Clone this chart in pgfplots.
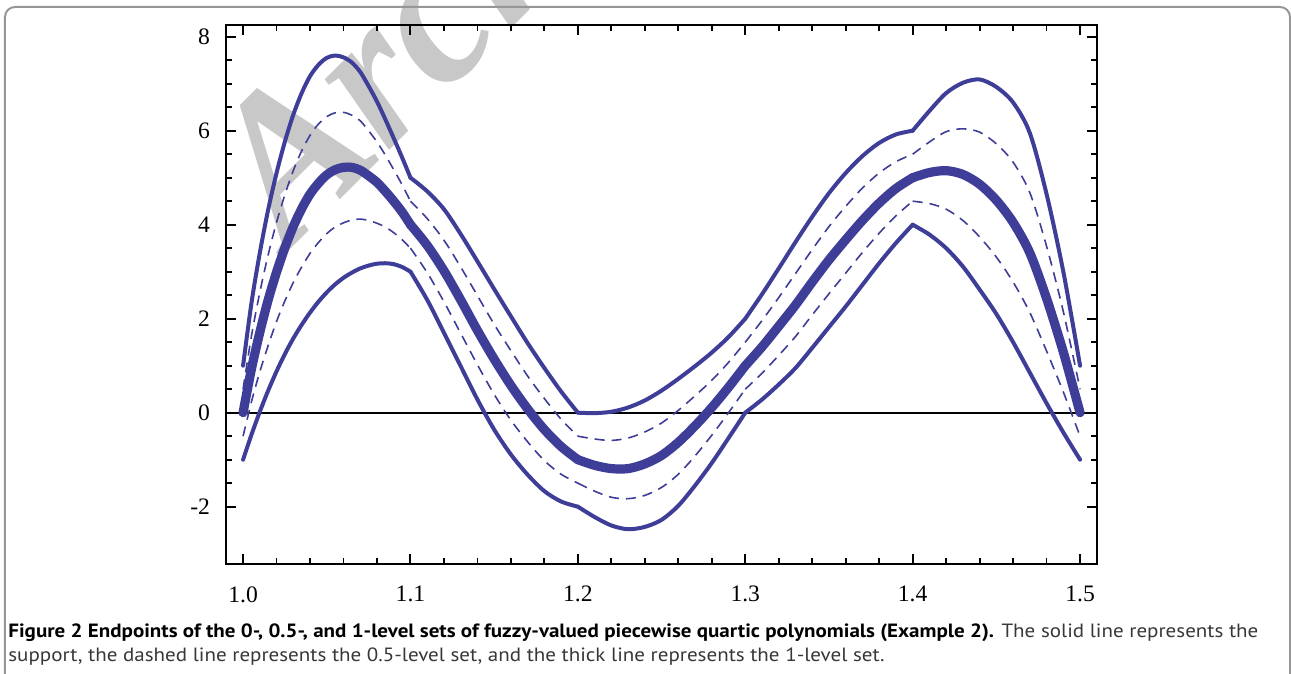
\documentclass[border=0pt]{standalone}
\usepackage{fontspec}
\setmainfont{Liberation Serif}
\newfontfamily\capfont[FakeStretch=1.095]{PT Sans}
\usepackage{pgfplots}
\usepackage{pgfplotstable}
\pgfplotsset{compat=1.18}
\definecolor{curve}{RGB}{62,61,152}
\definecolor{wmark}{RGB}{200,200,200}
\definecolor{framegray}{RGB}{150,150,150}
\definecolor{captext}{RGB}{55,55,55}

% x, support (U, L), 0.5-level (D1, D2), 1-level (M)
\pgfplotstableread{
x     U     L     M     D1    D2
1.000 1.00 -1.00  0.00  0.50 -0.50
1.005 2.33 -0.47  0.93  1.63  0.23
1.010 3.40  0.02  1.71  2.56  0.87
1.015 4.32  0.47  2.40  3.36  1.43
1.020 5.10  0.88  2.99  4.05  1.94
1.025 5.77  1.25  3.51  4.64  2.38
1.030 6.34  1.58  3.96  5.15  2.77
1.035 6.80  1.87  4.34  5.57  3.10
1.040 7.16  2.13  4.65  5.90  3.39
1.045 7.40  2.36  4.88  6.14  3.62
1.050 7.55  2.56  5.06  6.30  3.81
1.055 7.60  2.73  5.17  6.38  3.95
1.060 7.56  2.87  5.22  6.39  4.04
1.065 7.45  2.98  5.22  6.33  4.10
1.070 7.25  3.07  5.16  6.21  4.12
1.075 6.95  3.13  5.04  6.00  4.09
1.080 6.62  3.17  4.90  5.76  4.03
1.085 6.24  3.18  4.71  5.48  3.95
1.090 5.84  3.16  4.50  5.17  3.83
1.095 5.43  3.10  4.27  4.85  3.68
1.100 5.00  3.00  4.00  4.50  3.50
}\segA
\pgfplotstableread{
x     U     L     M     D1    D2
1.10  5.00  3.00  4.00  4.50  3.50
1.11  4.71  2.40  3.56  4.13  2.98
1.12  4.33  1.70  3.02  3.67  2.36
1.13  3.80  0.99  2.40  3.10  1.69
1.14  3.22  0.28  1.75  2.49  1.02
1.15  2.63 -0.36  1.14  1.88  0.39
1.16  2.05 -0.89  0.58  1.32 -0.16
1.17  1.48 -1.32  0.08  0.78 -0.62
1.18  0.95 -1.67 -0.36  0.30 -1.02
1.19  0.45 -1.89 -0.72 -0.14 -1.31
1.20  0.00 -2.00 -1.00 -0.50 -1.50
}\segB
\pgfplotstableread{
x     U     L     M     D1    D2
1.20  0.00 -2.00 -1.00 -0.50 -1.50
1.21 -0.01 -2.22 -1.12 -0.56 -1.67
1.22  0.02 -2.40 -1.19 -0.59 -1.80
1.23  0.11 -2.48 -1.19 -0.54 -1.83
1.24  0.26 -2.43 -1.09 -0.41 -1.76
1.25  0.47 -2.28 -0.91 -0.22 -1.59
1.26  0.72 -1.98 -0.63  0.05 -1.31
1.27  0.99 -1.55 -0.28  0.36 -0.92
1.28  1.28 -1.07  0.11  0.69 -0.48
1.29  1.61 -0.54  0.54  1.07  0.00
1.30  2.00  0.00  1.00  1.50  0.50
}\segC
\pgfplotstableread{
x     U     L     M     D1    D2
1.30  2.00  0.00  1.00  1.50  0.50
1.31  2.52  0.28  1.40  1.96  0.84
1.32  3.07  0.60  1.84  2.45  1.22
1.33  3.63  0.95  2.29  2.96  1.62
1.34  4.17  1.38  2.78  3.47  2.08
1.35  4.67  1.82  3.25  3.96  2.53
1.36  5.10  2.26  3.68  4.39  2.97
1.37  5.46  2.72  4.09  4.78  3.41
1.38  5.74  3.18  4.46  5.10  3.82
1.39  5.92  3.61  4.77  5.34  4.19
1.40  6.00  4.00  5.00  5.50  4.50
}\segD
\pgfplotstableread{
x     U     L     M     D1    D2
1.40  6.00  4.00  5.00  5.50  4.50
1.41  6.42  3.79  5.11  5.76  4.45
1.42  6.80  3.50  5.15  5.98  4.33
1.43  7.02  3.11  5.07  6.04  4.09
1.44  7.09  2.62  4.86  5.97  3.74
1.45  6.93  2.10  4.52  5.72  3.31
1.46  6.60  1.50  4.05  5.33  2.78
1.47  5.95  0.85  3.40  4.68  2.13
1.48  4.65  0.20  2.43  3.54  1.31
1.49  3.00 -0.42  1.29  2.15  0.44
1.50  1.00 -1.00  0.00  0.50 -0.50
}\segE

\begin{document}
\begin{tikzpicture}
% watermark, behind the plot (axis south west sits at the origin)
\begin{scope}[x=0.5pt,y=-0.5pt,shift={(-226,-564.3)}]
  \node[anchor=base west, rotate=45, inner sep=0, text=wmark,
        font=\fontsize{104}{104}\selectfont\bfseries\itshape] at (288,252) {Archived};
\end{scope}

\begin{axis}[
    name=ax, at={(0,0)}, anchor=south west,
    scale only axis, width=435.65pt, height=269.65pt,
    xmin=0.9898, xmax=1.5103, ymin=-3.226, ymax=8.249,
    xtick={1.0,1.1,1.2,1.3,1.4,1.5},
    xticklabels={1.0,1.1,1.2,1.3,1.4,1.5},
    ytick={-2,0,2,4,6,8},
    yticklabels={-2,0,2,4,6,8},
    minor x tick num=4, minor y tick num=3,
    tick align=inside,
    major tick length=5pt, minor tick length=3pt,
    axis line style={line width=1pt},
    every tick/.style={black, line width=1pt},
    every minor tick/.style={black, line width=0.9pt},
    tick label style={font=\fontsize{11.8}{14}\selectfont},
    xticklabel style={yshift=-7.5pt},
    yticklabel style={xshift=-4.5pt},
    /pgf/number format/assume math mode=true,
    sol/.style={curve, line width=2pt, line cap=round, line join=round, smooth},
    thk/.style={curve, line width=4.6pt, line cap=round, line join=round, smooth},
    dsh/.style={curve, line width=0.8pt, dash pattern=on 5pt off 3.5pt, smooth},
]
\addplot[black, line width=0.9pt] coordinates {(0.9898,0) (1.5103,0)};

\addplot[sol] table[x=x, y=U] {\segA};
\addplot[sol] table[x=x, y=U] {\segB};
\addplot[sol] table[x=x, y=U] {\segC};
\addplot[sol] table[x=x, y=U] {\segD};
\addplot[sol] table[x=x, y=U] {\segE};
\addplot[sol] table[x=x, y=L] {\segA};
\addplot[sol] table[x=x, y=L] {\segB};
\addplot[sol] table[x=x, y=L] {\segC};
\addplot[sol] table[x=x, y=L] {\segD};
\addplot[sol] table[x=x, y=L] {\segE};

\addplot[dsh] table[x=x, y=D1] {\segA};
\addplot[dsh] table[x=x, y=D1] {\segB};
\addplot[dsh] table[x=x, y=D1] {\segC};
\addplot[dsh] table[x=x, y=D1] {\segD};
\addplot[dsh] table[x=x, y=D1] {\segE};
\addplot[dsh] table[x=x, y=D2] {\segA};
\addplot[dsh] table[x=x, y=D2] {\segB};
\addplot[dsh] table[x=x, y=D2] {\segC};
\addplot[dsh] table[x=x, y=D2] {\segD};
\addplot[dsh] table[x=x, y=D2] {\segE};

\addplot[thk] table[x=x, y=M] {\segA};
\addplot[thk] table[x=x, y=M] {\segB};
\addplot[thk] table[x=x, y=M] {\segC};
\addplot[thk] table[x=x, y=M] {\segD};
\addplot[thk] table[x=x, y=M] {\segE};
\end{axis}

\begin{scope}[shift={(ax.south west)}, x=0.5pt, y=-0.5pt, shift={(-226,-564.3)}]
  \draw[framegray, line width=1pt, rounded corners=5pt]
    (5,690) -- (5,7) -- (1290,7) -- (1290,690);
  \node[anchor=base west, inner sep=0, font=\capfont\fontsize{9.6}{11}\selectfont] at (8,638)
    {\textbf{Figure 2 Endpoints of the 0-, 0.5-, and 1-level sets of fuzzy-valued piecewise quartic polynomials (Example 2).} \textcolor{captext}{The solid line represents the}};
  \node[anchor=base west, inner sep=0, text=captext, font=\capfont\fontsize{9.6}{11}\selectfont] at (8,662)
    {support, the dashed line represents the 0.5-level set, and the thick line represents the 1-level set.};
  \pgfresetboundingbox
  \path[use as bounding box] (0,0) rectangle (1291,674);
\end{scope}
\end{tikzpicture}
\end{document}
